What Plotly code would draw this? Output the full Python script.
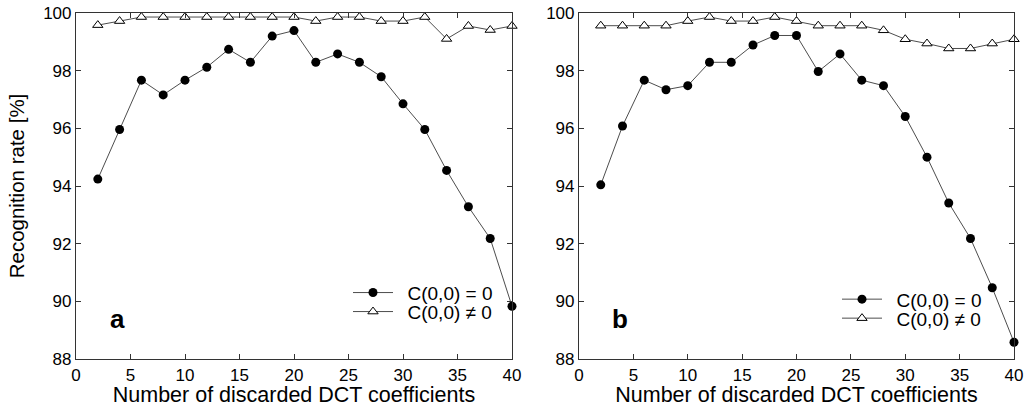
import plotly.graph_objects as go
from plotly.subplots import make_subplots

n_discarded = [2, 4, 6, 8, 10, 12, 14, 16, 18, 20, 22, 24, 26, 28, 30, 32, 34, 36, 38, 40]

a_dc_zero = [94.24, 95.96, 97.67, 97.16, 97.67, 98.12, 98.74, 98.29, 99.20, 99.39,
             98.29, 98.58, 98.29, 97.79, 96.85, 95.96, 94.54, 93.28, 92.18, 89.83]
a_dc_nonzero = [99.58, 99.72, 99.86, 99.86, 99.86, 99.86, 99.86, 99.86, 99.86, 99.86,
                99.72, 99.86, 99.86, 99.72, 99.72, 99.86, 99.10, 99.55, 99.41, 99.55]

b_dc_zero = [94.04, 96.08, 97.67, 97.34, 97.48, 98.29, 98.29, 98.89, 99.22, 99.22,
             97.97, 98.58, 97.67, 97.48, 96.41, 95.00, 93.41, 92.18, 90.47, 88.58]
b_dc_nonzero = [99.56, 99.56, 99.56, 99.56, 99.72, 99.86, 99.72, 99.72, 99.86, 99.72,
                99.56, 99.56, 99.56, 99.40, 99.09, 98.94, 98.77, 98.77, 98.94, 99.09]

label_zero = "C(0,0) = 0"
label_nonzero = "C(0,0) \u2260 0"
panel_labels = ["a", "b"]
x_title = "Number of discarded DCT coefficients"
y_title = "Recognition rate [%]"

FONT = "Liberation Sans, Arial, sans-serif"
W, H = 1032, 407
ML, MR, MT, MB = 76, 18, 13, 48
PW = W - ML - MR
PH = H - MT - MB

def px_x(p):
    return (p - ML) / PW

def px_y(p):
    return (H - MB - p) / PH

fig = make_subplots(rows=1, cols=2, horizontal_spacing=0.0)

line_col = "#4d4d4d"
pad = "\u2002"
panels = [(a_dc_zero, a_dc_nonzero, "legend", "legend2"),
          (b_dc_zero, b_dc_nonzero, "legend3", "legend4")]
for i, (zero, nonzero, leg_z, leg_n) in enumerate(panels):
    col = i + 1
    fig.add_trace(go.Scatter(
        x=n_discarded, y=zero, mode="lines+markers", name=pad + label_zero,
        line=dict(color=line_col, width=1),
        marker=dict(symbol="circle", size=9, color="black"),
        cliponaxis=False, legend=leg_z), row=1, col=col)
    fig.add_trace(go.Scatter(
        x=n_discarded, y=nonzero, mode="lines+markers", name=pad + label_nonzero,
        line=dict(color=line_col, width=1),
        marker=dict(symbol="triangle-up", size=9, color="white",
                    line=dict(color="black", width=1)),
        cliponaxis=False, legend=leg_n), row=1, col=col)

axis_common = dict(showgrid=False, zeroline=False, showline=True, linecolor="#333333",
                   linewidth=1.2, mirror="ticks", ticks="inside", ticklen=5,
                   tickcolor="#333333", tickwidth=1, ticklabeloverflow="allow",
                   tickfont=dict(family=FONT, size=17, color="black"))

fig.update_xaxes(range=[0, 40], dtick=5, tick0=0, **axis_common)
fig.update_yaxes(range=[88, 100], dtick=2, tick0=88, **axis_common)

fig.update_layout(
    xaxis=dict(domain=[0, px_x(512)],
               title=dict(text=x_title, font=dict(family=FONT, size=21.5, color="black"), standoff=4)),
    xaxis2=dict(domain=[px_x(579), 1],
                title=dict(text=x_title, font=dict(family=FONT, size=21.5, color="black"), standoff=4)),
    yaxis=dict(title=dict(text=y_title, font=dict(family=FONT, size=20.5, color="black"), standoff=12)),
)

for i, lab in enumerate(panel_labels):
    fig.add_annotation(x=3.8, y=89.4, xref="x" if i == 0 else "x2", yref="y" if i == 0 else "y2",
                       text="<b>%s</b>" % lab, showarrow=False,
                       font=dict(family=FONT, size=26, color="black"))

leg_common = dict(bgcolor="rgba(0,0,0,0)", borderwidth=0, xanchor="left", yanchor="middle",
                  font=dict(family=FONT, size=19, color="black"), itemwidth=40)
fig.update_layout(
    legend=dict(x=px_x(348), y=px_y(292.7), **leg_common),
    legend2=dict(x=px_x(348), y=px_y(311.7), **leg_common),
    legend3=dict(x=px_x(837), y=px_y(299.3), **leg_common),
    legend4=dict(x=px_x(837), y=px_y(318.3), **leg_common),
)

fig.update_layout(
    width=W, height=H, margin=dict(l=ML, r=MR, t=MT, b=MB, autoexpand=False),
    plot_bgcolor="white", paper_bgcolor="white",
    font=dict(family=FONT, color="black"),
    showlegend=True,
)

fig.write_html("out.html", config={"displayModeBar": False},
               post_script="document.body.style.margin='0';")
